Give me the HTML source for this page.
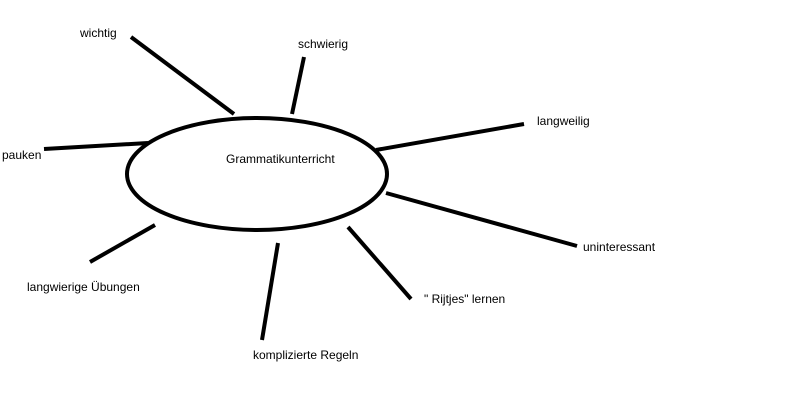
<!DOCTYPE html>
<html><head><meta charset="utf-8"><style>
html,body{margin:0;padding:0;background:#fff;}
svg{display:block;}
text{font-family:"Liberation Sans",sans-serif;font-size:12px;fill:#000;}
</style></head><body>
<svg width="800" height="408" viewBox="0 0 800 408" xmlns="http://www.w3.org/2000/svg">
<rect width="800" height="408" fill="#fff"/>
<g stroke="#000" stroke-width="4" fill="none" stroke-linecap="butt">
<ellipse cx="257" cy="174" rx="130" ry="56"/>
<line x1="131" y1="37" x2="234" y2="114"/>
<line x1="304" y1="57" x2="292" y2="114"/>
<line x1="524" y1="124" x2="376" y2="150"/>
<line x1="44" y1="149" x2="148" y2="143"/>
<line x1="386" y1="193" x2="577" y2="246"/>
<line x1="348" y1="227" x2="411" y2="299"/>
<line x1="278" y1="243" x2="262" y2="340"/>
<line x1="155" y1="225" x2="90" y2="262"/>
</g>
<text x="80" y="37">wichtig</text>
<text x="298" y="48">schwierig</text>
<text x="537" y="125">langweilig</text>
<text x="2" y="159">pauken</text>
<text x="226" y="163">Grammatikunterricht</text>
<text x="583" y="251">uninteressant</text>
<text x="424" y="303">" Rijtjes" lernen</text>
<text x="253" y="359">komplizierte Regeln</text>
<text x="27" y="291">langwierige Übungen</text>
</svg>
</body></html>
